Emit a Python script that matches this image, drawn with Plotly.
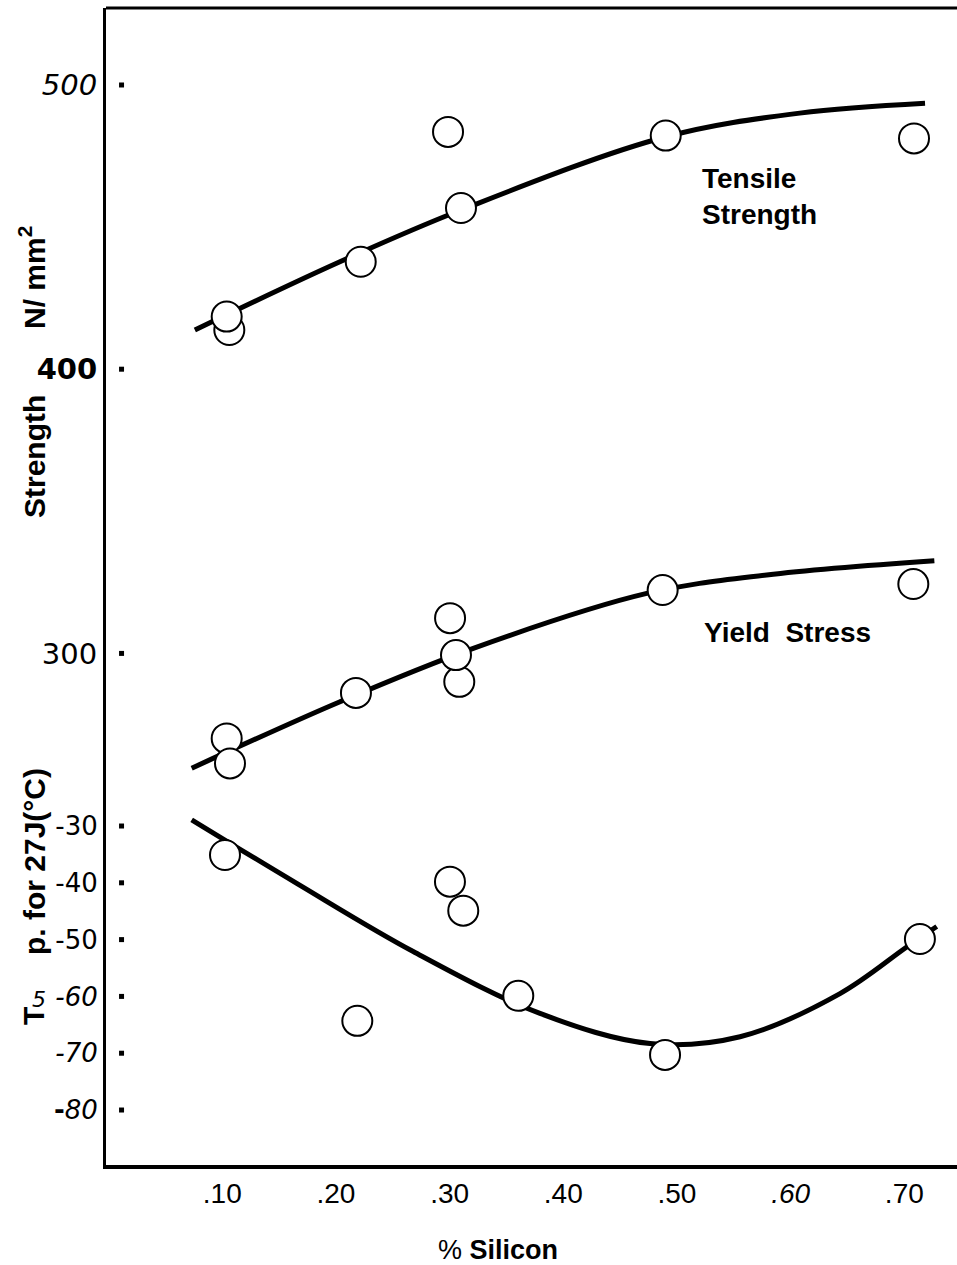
import plotly.graph_objects as go

# ---------------- data ----------------
# Tensile strength (N/mm2) measured points
ts_si = [0.1062, 0.1039, 0.2218, 0.2986, 0.3100, 0.4901, 0.7085]
ts_val = [413.8, 418.5, 437.8, 483.5, 456.7, 482.2, 481.2]
# Tensile strength fitted curve
ts_curve_si = [0.0759, 0.2035, 0.3100, 0.4895, 0.6080, 0.7182]
ts_curve_val = [413.8, 437.8, 456.0, 481.7, 490.1, 493.6]

# Yield stress (N/mm2) measured points
ys_si = [0.1039, 0.1068, 0.2176, 0.3004, 0.3085, 0.3056, 0.4874, 0.7079]
ys_val = [270.1, 261.3, 286.1, 312.4, 290.0, 299.4, 322.3, 324.4]
# Yield stress fitted curve
ys_curve_si = [0.0731, 0.2036, 0.3208, 0.4734, 0.5789, 0.7264]
ys_curve_val = [259.6, 283.0, 301.8, 321.1, 327.6, 332.6]

# Transition temperature for 27 J (deg C) measured points
tt_si = [0.1024, 0.2188, 0.3003, 0.3120, 0.3604, 0.4895, 0.7137]
tt_val = [-35.1, -64.3, -39.8, -44.9, -59.9, -70.3, -49.9]
# Transition temperature fitted curve
tt_curve_si = [0.0731, 0.1655, 0.2680, 0.3795, 0.4763, 0.5555, 0.6434, 0.7021, 0.7285]
tt_curve_val = [-28.9, -40.1, -52.1, -63.0, -68.3, -67.1, -59.5, -51.3, -47.7]

# Tick values / labels
x_ticks = [0.10, 0.20, 0.30, 0.40, 0.50, 0.60, 0.70]
x_ticktext = [".10", ".20", ".30", ".40", ".50", "<i>.60</i>", ".70"]
str_ticks = [300, 400, 500]
str_ticktext = ["300", "<b>400</b>", "<i>500</i>"]
tmp_ticks = [-30, -40, -50, -60, -70, -80]
tmp_ticktext = ["-30", "-40", "-50", "<i>-60</i>", "<i>-70</i>", "<b>-</b><i>80</i>"]

# ---------------- layout geometry ----------------
W, H = 957, 1265
L, R, T, B = 106, 0, 8, 100
PW, PH = W - L - R, H - T - B


def px(xp):
    return (xp - L) / PW


def py(yp):
    return (H - B - yp) / PH


split = py(790)
tick_dot_x = 0.0114

fig = go.Figure()

line_style = dict(color="black", width=5, shape="spline", smoothing=1.0)
marker_style = dict(symbol="circle", size=30, color="white",
                    line=dict(color="black", width=2))

# curves
fig.add_trace(go.Scatter(x=ts_curve_si, y=ts_curve_val, mode="lines", line=line_style,
                         xaxis="x", yaxis="y", hoverinfo="skip"))
fig.add_trace(go.Scatter(x=ys_curve_si, y=ys_curve_val, mode="lines", line=line_style,
                         xaxis="x", yaxis="y", hoverinfo="skip"))
fig.add_trace(go.Scatter(x=tt_curve_si, y=tt_curve_val, mode="lines", line=line_style,
                         xaxis="x", yaxis="y2", hoverinfo="skip"))
# points
fig.add_trace(go.Scatter(x=ts_si, y=ts_val, mode="markers", marker=marker_style,
                         xaxis="x", yaxis="y"))
fig.add_trace(go.Scatter(x=ys_si, y=ys_val, mode="markers", marker=marker_style,
                         xaxis="x", yaxis="y"))
fig.add_trace(go.Scatter(x=tt_si, y=tt_val, mode="markers", marker=marker_style,
                         xaxis="x", yaxis="y2"))
# tick dots (detached from axis, as in the original)
dot = dict(symbol="square", size=5, color="black", line=dict(width=0))
fig.add_trace(go.Scatter(x=[tick_dot_x] * len(str_ticks), y=str_ticks, mode="markers",
                         marker=dot, xaxis="x", yaxis="y", cliponaxis=False))
fig.add_trace(go.Scatter(x=[tick_dot_x] * len(tmp_ticks), y=tmp_ticks, mode="markers",
                         marker=dot, xaxis="x", yaxis="y2", cliponaxis=False))

x_lo = 0.4 - (563.3 - L) / 1136.8
x_hi = 0.4 + (W - R - 563.3) / 1136.8

fig.update_layout(
    width=W, height=H,
    margin=dict(l=L, r=R, t=T, b=B, pad=0),
    paper_bgcolor="white", plot_bgcolor="white",
    showlegend=False,
    font=dict(family="Liberation Sans, Arial, sans-serif", color="black"),
    xaxis=dict(range=[x_lo, x_hi], domain=[0, 1], anchor="y2",
               showline=True, linecolor="black", linewidth=4,
               showgrid=False, zeroline=False, ticks="",
               tickvals=x_ticks, ticktext=x_ticktext,
               tickfont=dict(family="Liberation Sans, Arial, sans-serif", size=28),
               ticklabelstandoff=0),
    yaxis=dict(range=[251.94, 527.09], domain=[split, 1], anchor="x",
               showline=True, linecolor="black", linewidth=3,
               showgrid=False, zeroline=False, ticks="",
               tickvals=str_ticks, ticktext=str_ticktext,
               tickfont=dict(family="DejaVu Sans, sans-serif", size=29)),
    yaxis2=dict(range=[-89.68, -23.66], domain=[0, split], anchor="x",
                showline=True, linecolor="black", linewidth=3,
                showgrid=False, zeroline=False, ticks="",
                tickvals=tmp_ticks, ticktext=tmp_ticktext,
                tickfont=dict(family="DejaVu Sans, sans-serif", size=26)),
)

# top border line
fig.add_shape(type="line", xref="paper", yref="paper", x0=0, x1=1, y0=1, y1=1,
              line=dict(color="black", width=3))

ann_font = dict(family="Liberation Sans, Arial, sans-serif", size=28, color="black")
title_font = dict(family="Liberation Sans, Arial, sans-serif", size=30, color="black")

annotations = [
    dict(x=px(700), y=py(196), text="<b>Tensile<br>Strength</b>", xanchor="left",
         yanchor="middle", align="left", font=ann_font),
    dict(x=px(787), y=py(632), text="<b>Yield  Stress</b>", xanchor="center",
         yanchor="middle", font=ann_font),
    dict(x=px(498), y=py(1250), text="% <b>Silicon</b>", xanchor="center",
         yanchor="middle", font=dict(family="Liberation Sans, Arial, sans-serif", size=27)),
    dict(x=px(34), y=py(457), text="<b>Strength</b>", textangle=-90, xanchor="center",
         yanchor="middle", font=title_font),
    dict(x=px(32), y=py(278), text="<b>N/ mm<sup>2</sup></b>", textangle=-90, xanchor="center",
         yanchor="middle", font=title_font),
    dict(x=px(34), y=py(862), text="<b>p. for 27J(°C)</b>", textangle=-90, xanchor="center",
         yanchor="middle", font=title_font),
    dict(x=px(33), y=py(1016), text="<b>T</b>", textangle=-90, xanchor="center",
         yanchor="middle", font=title_font),
    dict(x=px(39), y=py(999), text="<i>5</i>", xanchor="center", yanchor="middle",
         font=dict(family="DejaVu Sans, sans-serif", size=22)),
]
for a in annotations:
    a.update(xref="paper", yref="paper", showarrow=False)
    fig.add_annotation(**a)

fig.write_html("out.html")
